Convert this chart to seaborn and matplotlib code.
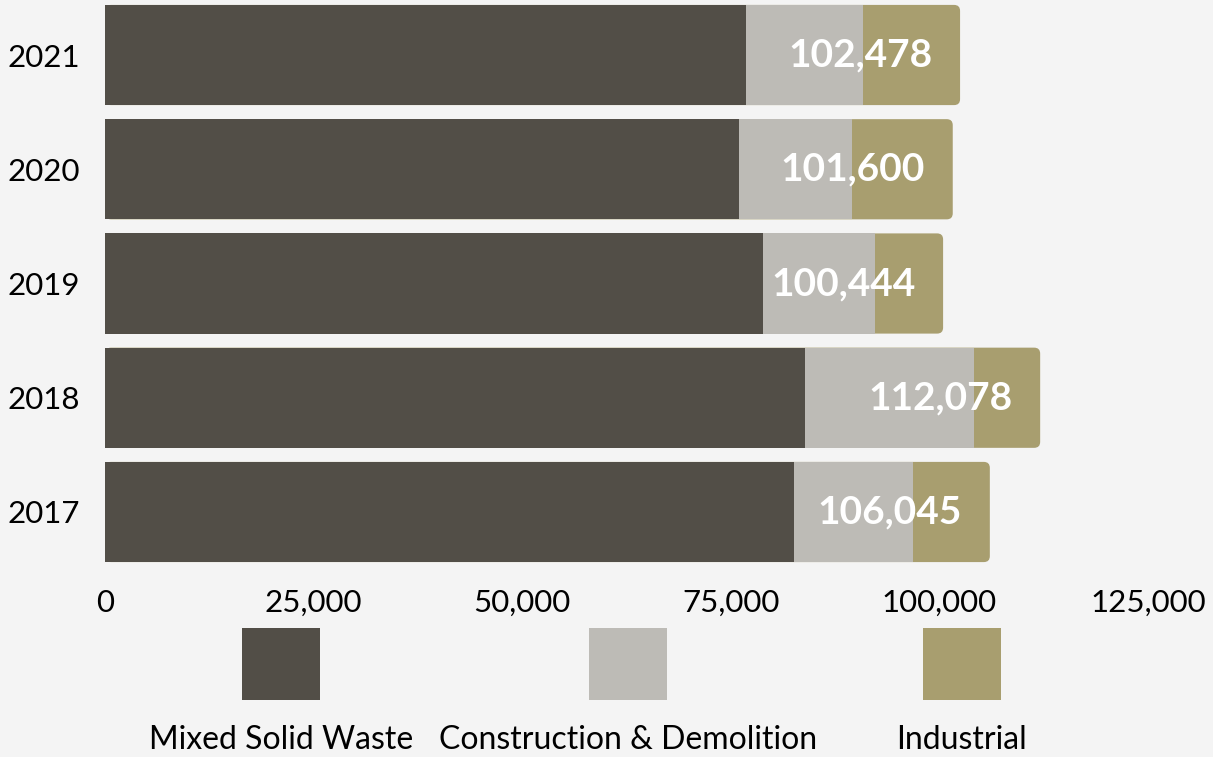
import numpy as np
import pandas as pd
import matplotlib
matplotlib.use("Agg")
import matplotlib.pyplot as plt
from matplotlib.patches import FancyBboxPatch, Rectangle
import seaborn as sns

# data
years = ["2021", "2020", "2019", "2018", "2017"]
mixed_solid = [76800, 76000, 78800, 83900, 82600]
construction = [14100, 13500, 13500, 20200, 14200]
totals = [102478, 101600, 100444, 112078, 106045]
industrial = [t - m - c for t, m, c in zip(totals, mixed_solid, construction)]

series_names = ["Mixed Solid Waste", "Construction & Demolition", "Industrial"]
colors = ["#524e47", "#bdbbb6", "#a89e6f"]
bg = "#f4f4f4"

df = pd.DataFrame({"year": years, "msw": mixed_solid, "cd": construction, "ind": industrial, "total": totals})
df["msw_cd"] = df["msw"] + df["cd"]

sns.set_theme(style="white")
plt.rcParams["font.family"] = ["Lato", "DejaVu Sans"]

fig = plt.figure(figsize=(12.13, 7.57), dpi=100, facecolor=bg)
ax = fig.add_axes([0.0866, 0.2482, 0.8598, 0.7546], facecolor=bg)

bw = 0.877
# back to front: total (industrial colour), msw + c&d, msw
sns.barplot(data=df, x="total", y="year", order=years, orient="h", color=colors[2],
            width=bw, saturation=1, linewidth=0, ax=ax)
n_ind = len(ax.patches)
sns.barplot(data=df, x="msw_cd", y="year", order=years, orient="h", color=colors[1],
            width=bw, saturation=1, linewidth=0, ax=ax)
sns.barplot(data=df, x="msw", y="year", order=years, orient="h", color=colors[0],
            width=bw, saturation=1, linewidth=0, ax=ax)

ax.set_xlim(0, 125000)
ax.set_ylim(4.5, -0.5)

# round the right end of the outer bars
px_x = 125000 / (0.8598 * 1213)
px_y = 5 / (0.7546 * 757)
r = 6
for p in list(ax.patches[:n_ind]):
    x, y, w, h = p.get_x(), p.get_y(), p.get_width(), p.get_height()
    fb = FancyBboxPatch((x, y), w, h, boxstyle=f"round,pad=0,rounding_size={r * px_x}",
                        mutation_aspect=px_y / px_x, facecolor=colors[2], edgecolor="none",
                        linewidth=0)
    p.remove()
    ax.add_patch(fb)
    fb.set_zorder(0.5)  # keep it behind the other segments

for i, t in enumerate(totals):
    ax.annotate(f"{t:,}", xy=(t, i), xytext=(-20, 0), textcoords="offset points",
                ha="right", va="center", color="white", fontsize=28, fontweight="bold")

ticks = np.arange(0, 125001, 25000)
ax.set_xticks(ticks)
ax.set_xticklabels([f"{t:,}" for t in ticks])
ax.tick_params(axis="x", length=0, pad=14, labelsize=22.5, colors="black")
ax.tick_params(axis="y", length=0, pad=18, labelsize=22.5, colors="black")
ax.set_xlabel("")
ax.set_ylabel("")
for s in ax.spines.values():
    s.set_visible(False)

# legend: swatch above, label below
leg_x = [0.2317, 0.5177, 0.793]
sw_w = 78 / 1213
sw_h = 72 / 757
for cx, name, c in zip(leg_x, series_names, colors):
    fig.patches.append(Rectangle((cx - sw_w / 2, 0.0753), sw_w, sw_h, transform=fig.transFigure,
                                 facecolor=c, edgecolor="none"))
    fig.text(cx, 0.0225, name, ha="center", va="center", fontsize=23, color="black")

fig.savefig("out.png", dpi=100, facecolor=bg)
